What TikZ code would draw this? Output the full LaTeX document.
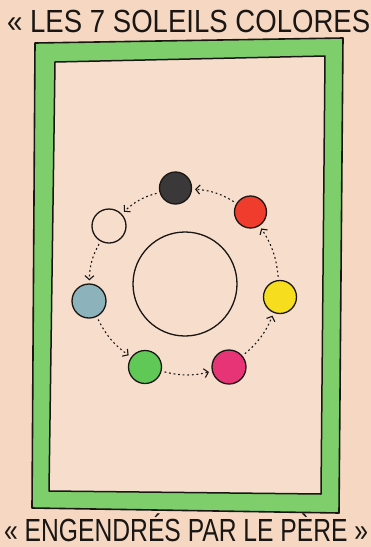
\documentclass[tikz,border=0pt]{standalone}
\usepackage{fontspec}
\setmainfont{Liberation Sans}
\usepackage{graphicx}
\usetikzlibrary{arrows.meta}
\definecolor{paper}{RGB}{246,216,194}
\definecolor{inner}{RGB}{247,221,204}
\definecolor{framegreen}{RGB}{126,206,108}
\definecolor{sunblack}{RGB}{58,56,56}
\definecolor{sunred}{RGB}{240,60,44}
\definecolor{sunyellow}{RGB}{246,222,30}
\definecolor{sunpink}{RGB}{230,52,118}
\definecolor{sungreen}{RGB}{96,200,86}
\definecolor{sunblue}{RGB}{140,178,188}
\definecolor{ink}{RGB}{25,22,20}
\begin{document}
\begin{tikzpicture}[x=1pt,y=-1pt,
  sun/.style={circle,draw=ink,line width=1.3pt,inner sep=0pt},
  flow/.style={draw=ink,line width=1.1pt,dash pattern=on 1.8pt off 2.8pt,
     -{Straight Barb[length=4pt,width=9pt]},shorten >=3pt,shorten <=3pt,bend right=14},
  title/.style={inner sep=0pt,text=ink,font=\fontsize{32}{32}\selectfont}]
\useasboundingbox (0,0) rectangle (371,547);
\fill[paper] (0,0) rectangle (371,547);
% frame
\filldraw[fill=framegreen,draw=ink,line width=1.6pt,line join=round]
  (35,43) -- (343,38) -- (339,513) -- (32,508) -- cycle;
\filldraw[fill=inner,draw=ink,line width=1.5pt,line join=round]
  (55,62) -- (325,56) -- (321,494) -- (49,491) -- cycle;
% titles
\node[title,anchor=base west] (t1) at (7,32)
  {\resizebox{363pt}{\height}{« LES 7 SOLEILS COLORES}};
\node[title,anchor=base west] (t2) at (4,541)
  {\resizebox{364pt}{\height}{« ENGENDRÉS PAR LE PÈRE »}};
% suns
\node[sun,minimum size=104pt] (big) at (185,284) {};
\node[sun,fill=sunblack,minimum size=32pt] (k) at (175.5,188) {};
\node[sun,fill=sunred,minimum size=32pt] (r) at (250.5,212) {};
\node[sun,fill=inner,minimum size=34pt] (w) at (109,226) {};
\node[sun,fill=sunblue,minimum size=34pt] (b) at (89,301) {};
\node[sun,fill=sunyellow,minimum size=33pt] (y) at (280,297) {};
\node[sun,fill=sungreen,minimum size=33pt] (g) at (145,367) {};
\node[sun,fill=sunpink,minimum size=34pt] (p) at (229,367) {};
% connectors
\draw[flow] (r) to (k);
\draw[flow] (k) to (w);
\draw[flow] (w) to (b);
\draw[flow] (b) to (g);
\draw[flow] (g) to (p);
\draw[flow] (p) to (y);
\draw[flow] (y) to (r);
\end{tikzpicture}
\end{document}
